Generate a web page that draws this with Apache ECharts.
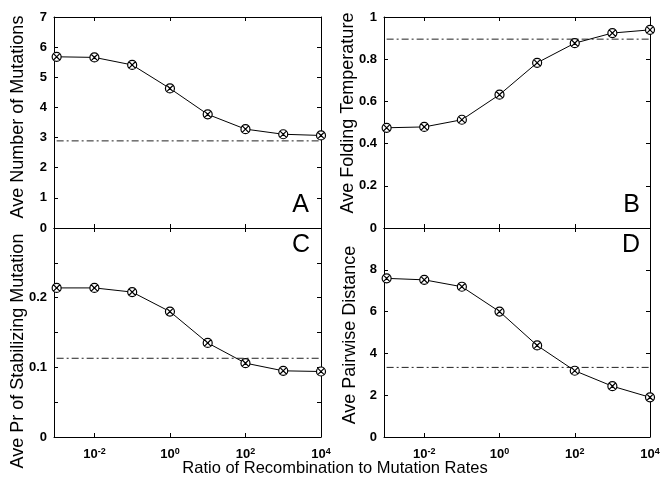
<!DOCTYPE html>
<html>
<head>
<meta charset="utf-8">
<script src="https://cdn.jsdelivr.net/npm/echarts@6/dist/echarts.min.js"></script>
<style>
html,body{margin:0;padding:0;background:#fff;}
#chart{width:663px;height:481px;}
</style>
</head>
<body>
<div id="chart"></div>
<script>
// ---- data ----
const ratios = [0.001, 0.01, 0.1, 1, 10, 100, 1000, 10000];
const aveMutations = [5.68, 5.66, 5.41, 4.63, 3.77, 3.28, 3.11, 3.07];
const aveFoldTemp = [0.475, 0.479, 0.513, 0.632, 0.783, 0.876, 0.924, 0.939];
const aveStabPr = [0.214, 0.214, 0.208, 0.180, 0.135, 0.106, 0.095, 0.094];
const avePairDist = [7.59, 7.52, 7.19, 6.00, 4.38, 3.17, 2.43, 1.90];
const refMutations = 2.89;
const refFoldTemp = 0.895;
const refStabPr = 0.113;
const refPairDist = 3.33;
const xTickExponents = [-2, 0, 2, 4];
const yTitles = ['Ave Number of Mutations', 'Ave Folding Temperature', 'Ave Pr of Stabilizing Mutation', 'Ave Pairwise Distance'];
const panelLetters = ['A', 'B', 'C', 'D'];
const xTitle = 'Ratio of Recombination to Mutation Rates';

// ---- build ----
const FONT = 'Liberation Sans, Arial, Helvetica, sans-serif';
const grids = [
  {left: 54, top: 17, width: 267, height: 211},
  {left: 384, top: 17, width: 266, height: 211},
  {left: 54, top: 228, width: 267, height: 209},
  {left: 384, top: 228, width: 266, height: 209}
];
const yScales = [
  {min: 0, max: 7, interval: 1, labels: v => String(v)},
  {min: 0, max: 1, interval: 0.2, labels: v => String(+v.toFixed(1))},
  {min: 0, max: 0.3, interval: 0.05, labels: v => { const r = Math.round(v * 100); return (r % 10 === 0 && r < 30) ? String(+v.toFixed(1)) : ''; }},
  {min: 0, max: 10, interval: 2, labels: v => (v < 10 ? String(v) : '')}
];
const values = [aveMutations, aveFoldTemp, aveStabPr, avePairDist];
const refs = [refMutations, refFoldTemp, refStabPr, refPairDist];
const xs = ratios.map(r => Math.log10(r));
const xMin = -3.07, xMax = 4;

const axisLine = {show: true, onZero: false, lineStyle: {color: '#000', width: 1}};
const tickStyle = {show: true, inside: true, length: 4, lineStyle: {color: '#000', width: 1}};

const xAxis = [], yAxis = [], series = [];
grids.forEach((g, i) => {
  const showXLabels = i >= 2;
  ['bottom', 'top'].forEach(pos => {
    xAxis.push({
      type: 'value', gridIndex: i, position: pos, min: xMin, max: xMax,
      axisLine: axisLine,
      axisTick: Object.assign({}, tickStyle, {customValues: xTickExponents}),
      splitLine: {show: false},
      axisLabel: {
        show: showXLabels && pos === 'bottom',
        customValues: xTickExponents,
        margin: 10,
        formatter: v => '{b|10}{s|' + v + '}',
        rich: {
          b: {fontFamily: FONT, fontSize: 13, fontWeight: 'bold', color: '#000', lineHeight: 14, verticalAlign: 'bottom'},
          s: {fontFamily: FONT, fontSize: 9, fontWeight: 'bold', color: '#000', lineHeight: 9, verticalAlign: 'top'}
        }
      }
    });
  });
  const ys = yScales[i];
  ['left', 'right'].forEach(pos => {
    yAxis.push({
      type: 'value', gridIndex: i, position: pos, min: ys.min, max: ys.max, interval: ys.interval,
      axisLine: axisLine,
      axisTick: tickStyle,
      splitLine: {show: false},
      axisLabel: {
        show: pos === 'left',
        margin: 7,
        formatter: ys.labels,
        fontFamily: FONT, fontSize: 13, fontWeight: 'bold', color: '#000'
      }
    });
  });
  series.push({
    type: 'line', xAxisIndex: 2 * i, yAxisIndex: 2 * i,
    data: xs.map((x, k) => [x, values[i][k]]),
    lineStyle: {color: '#000', width: 1},
    symbol: 'path://M10 0A10 10 0 1 1 10 20A10 10 0 1 1 10 0ZM2.93 2.93L17.07 17.07M17.07 2.93L2.93 17.07',
    symbolSize: 9,
    itemStyle: {color: '#fff', borderColor: '#000', borderWidth: 1.2},
    animation: false, z: 3
  });
  series.push({
    type: 'line', xAxisIndex: 2 * i, yAxisIndex: 2 * i,
    data: [[xs[0], refs[i]], [xs[xs.length - 1], refs[i]]],
    symbol: 'none',
    lineStyle: {color: '#222', width: 1, type: [7, 3, 2, 3]},
    animation: false, z: 2
  });
});

const titlePos = [[18, 117], [348, 113], [18, 351], [350, 335]];
const letterPos = [
  {x: 309, y: 218, v: 'bottom'}, {x: 640, y: 218, v: 'bottom'},
  {x: 310, y: 233, v: 'top'}, {x: 640, y: 233, v: 'top'}
];
const graphic = [];
yTitles.forEach((t, i) => {
  graphic.push({
    type: 'text', x: titlePos[i][0], y: titlePos[i][1], rotation: Math.PI / 2,
    style: {text: t, fontFamily: FONT, fontSize: 18, fill: '#000', align: 'center', verticalAlign: 'middle', textAlign: 'center', textVerticalAlign: 'middle'}
  });
});
panelLetters.forEach((t, i) => {
  graphic.push({
    type: 'text', x: letterPos[i].x, y: letterPos[i].y,
    style: {text: t, fontFamily: FONT, fontSize: 25, fill: '#000', align: 'right', verticalAlign: letterPos[i].v, textAlign: 'right', textVerticalAlign: letterPos[i].v}
  });
});
graphic.push({
  type: 'text', x: 335, y: 468,
  style: {text: xTitle, fontFamily: FONT, fontSize: 16.5, fill: '#000', align: 'center', verticalAlign: 'middle', textAlign: 'center', textVerticalAlign: 'middle'}
});

const chart = echarts.init(document.getElementById('chart'), null, {renderer: 'canvas'});
chart.setOption({
  animation: false,
  backgroundColor: '#fff',
  grid: grids.map(g => Object.assign({containLabel: false}, g)),
  xAxis: xAxis,
  yAxis: yAxis,
  series: series,
  graphic: graphic
});
</script>
</body>
</html>
